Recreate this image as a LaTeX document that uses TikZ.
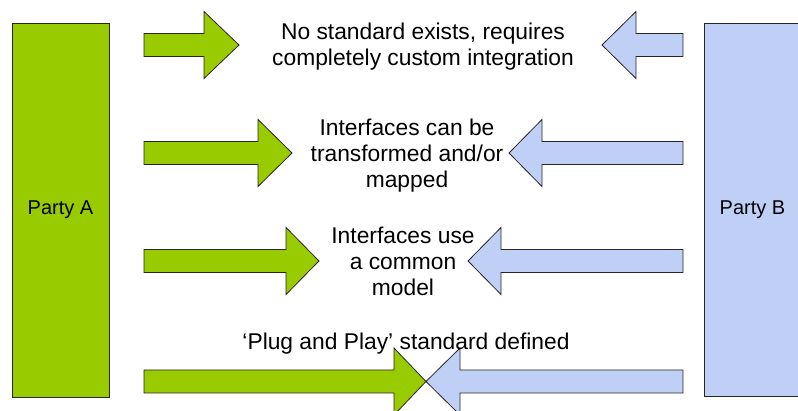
\documentclass[tikz,border=0pt]{standalone}
\usepackage{fontspec}
\setmainfont{Liberation Sans}
\usepackage{tikz}
\usetikzlibrary{positioning}

\definecolor{partygreen}{RGB}{153,204,0}
\definecolor{partyblue}{RGB}{192,207,245}

\tikzset{
	party/.style={draw=black!85, line width=0.8pt, minimum width=97pt, inner sep=0pt, font=\fontsize{20}{24}\selectfont},
	greenarrow/.style={draw=black!85, line width=0.8pt, fill=partygreen},
	bluearrow/.style={draw=black!85, line width=0.8pt, fill=partyblue},
	caption/.style={align=center, inner sep=0pt, font=\fontsize{22.8}{26}\selectfont}
}

% style, tail x, head x, tip x, centre y
\newcommand{\fatarrow}[5]{%
	\draw[#1] (#2,#5-11.5) -- (#3,#5-11.5) -- (#3,#5-33.5) -- (#4,#5)
		-- (#3,#5+33.5) -- (#3,#5+11.5) -- (#2,#5+11.5) -- cycle;}

\begin{document}
\begin{tikzpicture}[x=1pt, y=-1pt]
			\useasboundingbox (0,0) rectangle (798,411);
			\node[party, fill=partygreen, minimum height=374pt] at (60.5,210) (pa) {Party A};
			\node[party, fill=partyblue, minimum height=373pt] at (752.5,209.5) (pb) {Party B};
			% arrows from A
			\fatarrow{greenarrow}{144}{204}{239}{45}
			\fatarrow{greenarrow}{144}{258}{292}{153}
			\fatarrow{greenarrow}{144}{286}{319}{261}
			\fatarrow{greenarrow}{144}{394}{426}{381.5}
			% arrows from B
			\fatarrow{bluearrow}{683}{636}{602}{45}
			\fatarrow{bluearrow}{683}{542}{509}{153}
			\fatarrow{bluearrow}{683}{501}{468}{261}
			\fatarrow{bluearrow}{683}{460}{426}{381.5}
			% captions
			\node[caption] at (423,47) (custom) {No standard exists, requires\\completely custom integration};
			\node[caption] at (407,156) (mapped) {Interfaces can be\\transformed and/or\\mapped};
			\node[caption] at (403,261) (common) {Interfaces use\\a common\\model};
			\node[caption, anchor=base] at (406,350) (plug) {`Plug and Play' standard defined};
		\end{tikzpicture}
\end{document}
